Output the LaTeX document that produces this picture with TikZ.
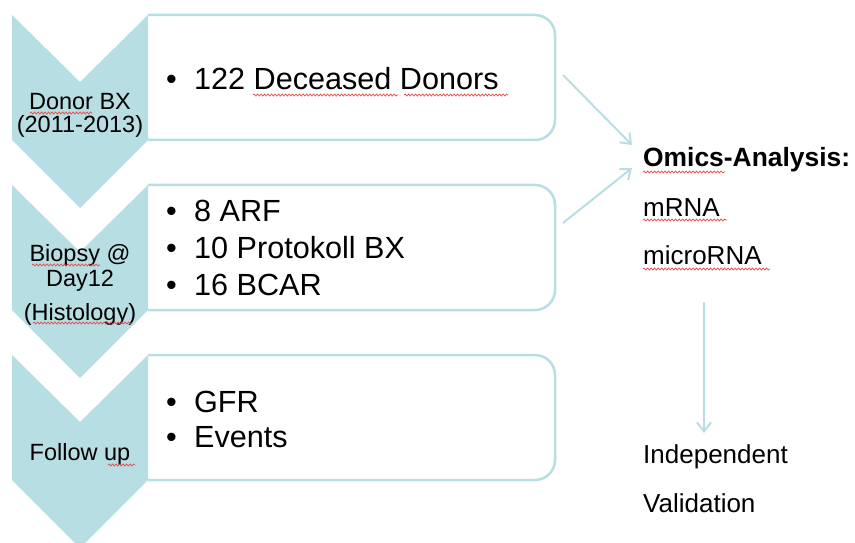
\documentclass[tikz,border=0pt]{standalone}
\usepackage{fontspec}
\setmainfont{Liberation Sans}
\usetikzlibrary{arrows.meta,decorations.pathmorphing}
\definecolor{aqua}{RGB}{183,222,226}
\definecolor{spell}{RGB}{232,70,70}

\begin{document}
\begin{tikzpicture}[x=1pt,y=1pt,
  chev/.style={fill=aqua, draw=none},
  itembox/.style={draw=aqua, line width=2.5pt, fill=white},
  lbl/.style={font=\fontsize{23.5}{24}\selectfont, anchor=base, inner sep=0pt},
  item/.style={font=\fontsize{30.6}{36}\selectfont, anchor=base west, inner sep=0pt},
  rtxt/.style={font=\fontsize{26}{30}\selectfont, anchor=base west, inner sep=0pt},
  flow/.style={draw=aqua, line width=2pt,
    -{Straight Barb[length=9pt,width=14pt,line width=2pt]}},
  squig/.style={draw=spell, line width=0.7pt, decorate,
    decoration={snake, amplitude=1pt, segment length=3.5pt}}
]
\useasboundingbox (0,0) rectangle (855,542);
\clip (0,0) rectangle (855,542);

% item boxes, rounded on the right side only
\foreach \t in {527,357,187}{
  \draw[itembox] (148,\t) -- (535,\t)
    arc[start angle=90,end angle=0,radius=20] -- (555,\t-105)
    arc[start angle=0,end angle=-90,radius=20] -- (148,\t-125);
}

% chevrons of the step list
\foreach \t in {527,357,187}{
  \fill[chev] (12,\t) -- (80,\t-67) -- (148,\t) -- (148,\t-125)
    -- (80,\t-193) -- (12,\t-125) -- cycle;
}

% step labels
\node[lbl] (donor) at (80,432) {Donor BX};
\node[lbl] (years) at (80,409) {(2011-2013)};
\node[lbl] (biopsy) at (80,280) {Biopsy @};
\node[lbl] (day) at (80,255) {Day12};
\node[lbl] (histo) at (80,222) {(Histology)};
\node[lbl] (follow) at (80,82) {Follow up};

% bullet items
\newcommand{\bul}{\makebox[28pt][l]{•}}
\node[item] (donors) at (166,452) {\bul122 Deceased Donors};
\node[item] (arf) at (166,320) {\bul8 ARF};
\node[item] (proto) at (166,283.5) {\bul10 Protokoll BX};
\node[item] (bcar) at (166,247) {\bul16 BCAR};
\node[item] (gfr) at (166,130) {\bul GFR};
\node[item] (events) at (166,95) {\bul Events};

% analysis column
\node[rtxt, font=\fontsize{26.4}{30}\selectfont\bfseries] (omics) at (643,375) {Omics-Analysis:};
\node[rtxt] (mrna) at (643,325) {mRNA};
\node[rtxt] (mirna) at (643,277) {microRNA};
\node[rtxt] (indep) at (643,79) {Independent};
\node[rtxt] (valid) at (643,30) {Validation};

% connectors
\coordinate (s1) at (563,467);
\coordinate (e1) at (632,397);
\coordinate (s2) at (563,319);
\coordinate (e2) at (632,374);
\coordinate (s3) at (704,240);
\coordinate (e3) at (704,109);
\draw[flow] (s1) -- (e1);
\draw[flow] (s2) -- (e2);
\draw[flow] (s3) -- (e3);

% spell-check marks
\draw[squig] (30,429) -- (92,429);
\draw[squig] (253,447) -- (398,447);
\draw[squig] (404,447) -- (508,447);
\draw[squig] (32,277) -- (100,277);
\draw[squig] (33,219) -- (132,219);
\draw[squig] (108,77) -- (135,77);
\draw[squig] (643,370) -- (725,370);
\draw[squig] (643,322) -- (727,322);
\draw[squig] (643,273) -- (770,273);
\end{tikzpicture}
\end{document}
